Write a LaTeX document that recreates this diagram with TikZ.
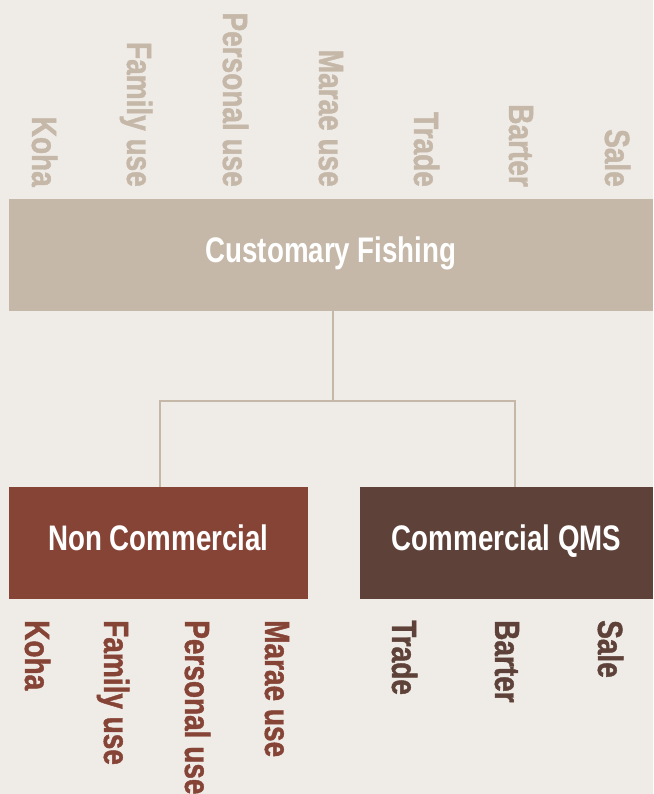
\documentclass[tikz,border=0pt]{standalone}
\usepackage{fontspec}
\newfontfamily\labfont{Liberation Sans}[FakeStretch=0.78]
\newfontfamily\sidefont{Liberation Sans}[FakeStretch=0.8,FakeBold=1.2]
\definecolor{bg}{HTML}{EFEBE6}
\definecolor{sand}{HTML}{C5B8A8}
\definecolor{rust}{HTML}{864437}
\definecolor{cocoa}{HTML}{5E4239}
\tikzset{
  lab/.style={font=\sidefont\bfseries\fontsize{35}{40}\selectfont, inner sep=0pt, rotate=-90},
  toplab/.style={lab, text=sand, anchor=base east},
  botlab/.style={lab, anchor=base west},
  box/.style={font=\labfont\bfseries\fontsize{35.5}{40}\selectfont, text=white, minimum height=112pt, inner sep=0pt, text height=26pt, text depth=11.5pt},
  conn/.style={draw=sand, line width=2pt}
}
\begin{document}
\begin{tikzpicture}[x=1pt,y=-1pt]
\fill[bg] (0,0) rectangle (653,794);
\useasboundingbox (0,0) rectangle (653,794);
% boxes
\node[box, fill=sand, minimum width=644pt] (top) at (331,255) {Customary Fishing};
\node[box, fill=rust, minimum width=299pt] (nc) at (158.5,543) {Non Commercial};
\node[box, fill=cocoa, minimum width=293pt] (qms) at (506.5,543) {Commercial QMS};
% connectors
\coordinate (j) at (333,401);
\coordinate (ncc) at (160,487);
\coordinate (qmc) at (515,487);
\draw[conn] (top.south -| j) -- (j);
\draw[conn] (ncc) -- (ncc |- j) -- (qmc |- j) -- (qmc);
% top labels
\node[toplab] (t1) at (32,187) {Koha};
\node[toplab] (t2) at (127,187) {Family use};
\node[toplab] (t3) at (223,187) {Personal use};
\node[toplab] (t4) at (319,187) {Marae use};
\node[toplab] (t5) at (414,187) {Trade};
\node[toplab] (t6) at (509,187) {Barter};
\node[toplab] (t7) at (605,187) {Sale};
% bottom labels
\node[botlab, text=rust] (b1) at (25,620) {Koha};
\node[botlab, text=rust] (b2) at (104,620) {Family use};
\node[botlab, text=rust] (b3) at (185,620) {Personal use};
\node[botlab, text=rust] (b4) at (265,620) {Marae use};
\node[botlab, text=cocoa] (b5) at (392,620) {Trade};
\node[botlab, text=cocoa] (b6) at (495,620) {Barter};
\node[botlab, text=cocoa] (b7) at (598,620) {Sale};
\end{tikzpicture}
\end{document}
